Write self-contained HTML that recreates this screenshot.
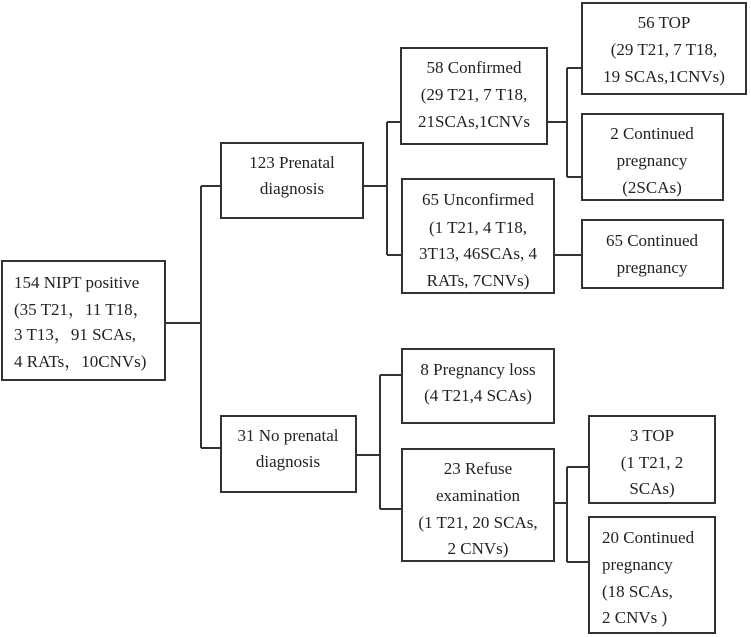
<!DOCTYPE html>
<html><head><meta charset="utf-8"><style>
body{margin:0;background:#fff;width:751px;height:637px;position:relative;overflow:hidden;font-family:"Liberation Serif","Noto Serif CJK SC",serif;color:#222}
.b{position:absolute;border:2px solid #333;box-sizing:border-box}
.t{position:absolute;font-size:17px;line-height:20px;white-space:nowrap;transform:translate(-50%,-50%)}
.l{position:absolute;font-size:17px;line-height:20px;white-space:nowrap;transform:translate(0,-50%)}
svg{position:absolute;left:0;top:0}
</style></head><body>
<svg width="751" height="637"><g stroke="#333" stroke-width="2" fill="none">
<path d="M166 323H201M201 186V448M201 186H220M201 448H220"/>
<path d="M364 186H387M387 122V255M387 122H400M387 255H401"/>
<path d="M548 122H567M567 68V177M567 68H581M567 177H581"/>
<path d="M555 255H581"/>
<path d="M357 455H380M380 375V509M380 375H401M380 509H401"/>
<path d="M555 503H567M567 467V562M567 467H588M567 562H588"/>
</g></svg>
<div class="b" style="left:1px;top:260px;width:165px;height:121px"></div>
<div class="l" style="left:14px;top:283px">154 NIPT positive</div>
<div class="l" style="left:14px;top:310px">(35 T21，11 T18，</div>
<div class="l" style="left:14px;top:335px">3 T13，91 SCAs,</div>
<div class="l" style="left:14px;top:362px">4 RATs，10CNVs)</div>

<div class="b" style="left:220px;top:142px;width:144px;height:77px"></div>
<div class="t" style="left:292px;top:163px">123 Prenatal</div>
<div class="t" style="left:292px;top:189px">diagnosis</div>

<div class="b" style="left:400px;top:47px;width:148px;height:98px"></div>
<div class="t" style="left:474px;top:68px">58 Confirmed</div>
<div class="t" style="left:474px;top:95px">(29 T21, 7 T18,</div>
<div class="t" style="left:474px;top:122px">21SCAs,1CNVs</div>

<div class="b" style="left:401px;top:178px;width:154px;height:116px"></div>
<div class="t" style="left:478px;top:200px">65 Unconfirmed</div>
<div class="t" style="left:478px;top:228px">(1 T21, 4 T18,</div>
<div class="t" style="left:478px;top:254px">3T13, 46SCAs, 4</div>
<div class="t" style="left:478px;top:281px">RATs, 7CNVs)</div>

<div class="b" style="left:581px;top:2px;width:166px;height:93px"></div>
<div class="t" style="left:664px;top:23px">56 TOP</div>
<div class="t" style="left:664px;top:50px">(29 T21, 7 T18,</div>
<div class="t" style="left:664px;top:77px">19 SCAs,1CNVs)</div>

<div class="b" style="left:581px;top:113px;width:143px;height:88px"></div>
<div class="t" style="left:652px;top:134px">2 Continued</div>
<div class="t" style="left:652px;top:161px">pregnancy</div>
<div class="t" style="left:652px;top:188px">(2SCAs)</div>

<div class="b" style="left:581px;top:219px;width:143px;height:70px"></div>
<div class="t" style="left:652px;top:241px">65 Continued</div>
<div class="t" style="left:652px;top:268px">pregnancy</div>

<div class="b" style="left:220px;top:415px;width:137px;height:78px"></div>
<div class="t" style="left:288px;top:436px">31 No prenatal</div>
<div class="t" style="left:288px;top:462px">diagnosis</div>

<div class="b" style="left:401px;top:348px;width:154px;height:76px"></div>
<div class="t" style="left:478px;top:370px">8 Pregnancy loss</div>
<div class="t" style="left:478px;top:396px">(4 T21,4 SCAs)</div>

<div class="b" style="left:401px;top:448px;width:154px;height:114px"></div>
<div class="t" style="left:478px;top:469px">23 Refuse</div>
<div class="t" style="left:478px;top:496px">examination</div>
<div class="t" style="left:478px;top:523px">(1 T21, 20 SCAs,</div>
<div class="t" style="left:478px;top:549px">2 CNVs)</div>

<div class="b" style="left:588px;top:415px;width:128px;height:89px"></div>
<div class="t" style="left:652px;top:436px">3 TOP</div>
<div class="t" style="left:652px;top:463px">(1 T21, 2</div>
<div class="t" style="left:652px;top:489px">SCAs)</div>

<div class="b" style="left:588px;top:516px;width:128px;height:118px"></div>
<div class="l" style="left:602px;top:538px">20 Continued</div>
<div class="l" style="left:602px;top:565px">pregnancy</div>
<div class="l" style="left:602px;top:592px">(18 SCAs,</div>
<div class="l" style="left:602px;top:618px">2 CNVs )</div>
</body></html>
